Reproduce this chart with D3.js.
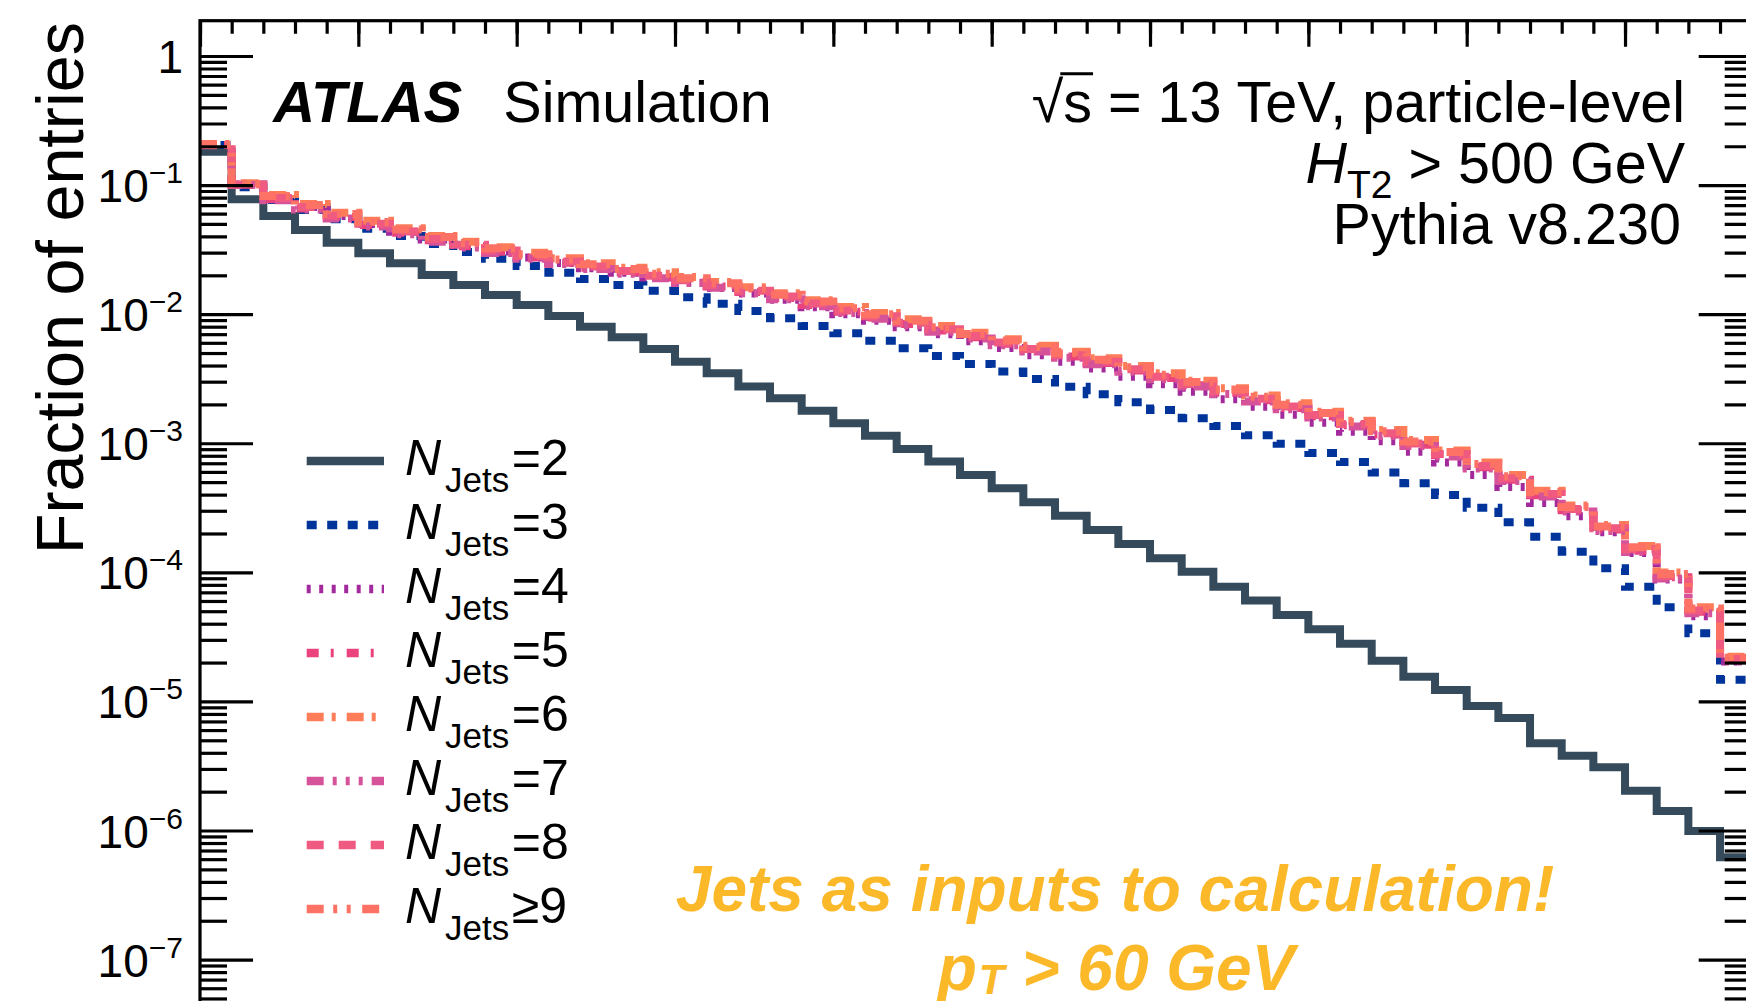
<!DOCTYPE html>
<html>
<head>
<meta charset="utf-8">
<script src="https://cdn.jsdelivr.net/npm/d3@7"></script>
<style>
  html, body { margin: 0; padding: 0; background: #fff; overflow: hidden; }
  svg { display: block; }
  text { font-family: "Liberation Sans", Arial, Helvetica, sans-serif; fill: #000; }
</style>
</head>
<body>
<svg id="chart" width="1746" height="1001"></svg>
<script>
// ---------------------------------------------------------------------------
// Data: 49 equal-width bins; values are log10(fraction of entries) per bin.
// ---------------------------------------------------------------------------
const nBins = 49;
const binEdges = d3.range(0, nBins + 1);

const logFracN2 = [-0.741, -1.110, -1.239, -1.348, -1.446, -1.528, -1.605, -1.696, -1.774, -1.851,
  -1.929, -2.014, -2.097, -2.179, -2.270, -2.368, -2.458, -2.561, -2.651, -2.748,
  -2.845, -2.941, -3.044, -3.142, -3.246, -3.349, -3.457, -3.561, -3.672, -3.780,
  -3.891, -3.995, -4.111, -4.219, -4.330, -4.441, -4.554, -4.684, -4.808, -4.911,
  -5.035, -5.128, -5.324, -5.420, -5.510, -5.691, -5.848, -6.003, -6.207];

const logFracN3 = [-0.689, -1.017, -1.115, -1.193, -1.265, -1.338, -1.394, -1.456, -1.518, -1.570,
  -1.627, -1.679, -1.727, -1.774, -1.818, -1.869, -1.919, -1.975, -2.032, -2.091,
  -2.148, -2.205, -2.264, -2.324, -2.386, -2.445, -2.502, -2.562, -2.620, -2.682,
  -2.742, -2.806, -2.866, -2.938, -3.003, -3.075, -3.145, -3.227, -3.310, -3.400,
  -3.499, -3.612, -3.724, -3.840, -3.968, -4.111, -4.271, -4.472, -4.833];

const logFracN4 = [-0.690, -0.995, -1.095, -1.170, -1.240, -1.302, -1.361, -1.421, -1.465, -1.515,
  -1.560, -1.604, -1.644, -1.679, -1.716, -1.757, -1.797, -1.840, -1.889, -1.946,
  -2.000, -2.050, -2.102, -2.155, -2.210, -2.263, -2.318, -2.369, -2.421, -2.484,
  -2.542, -2.600, -2.660, -2.718, -2.779, -2.842, -2.911, -2.985, -3.065, -3.150,
  -3.245, -3.338, -3.462, -3.565, -3.690, -3.850, -4.055, -4.340, -4.690];

const logFracN5 = [-0.690, -0.998, -1.110, -1.181, -1.248, -1.310, -1.370, -1.428, -1.473, -1.517,
  -1.560, -1.602, -1.640, -1.676, -1.712, -1.748, -1.786, -1.828, -1.874, -1.929,
  -1.981, -2.026, -2.076, -2.127, -2.179, -2.230, -2.280, -2.328, -2.378, -2.437,
  -2.494, -2.551, -2.609, -2.666, -2.726, -2.791, -2.861, -2.933, -3.011, -3.093,
  -3.186, -3.282, -3.403, -3.519, -3.669, -3.832, -4.038, -4.306, -4.680];

const logFracN6 = [-0.682, -0.986, -1.077, -1.147, -1.214, -1.276, -1.335, -1.394, -1.438, -1.482,
  -1.525, -1.567, -1.605, -1.640, -1.676, -1.712, -1.750, -1.792, -1.838, -1.893,
  -1.945, -1.990, -2.040, -2.091, -2.143, -2.194, -2.244, -2.292, -2.342, -2.401,
  -2.458, -2.515, -2.573, -2.630, -2.690, -2.755, -2.825, -2.897, -2.975, -3.057,
  -3.150, -3.246, -3.367, -3.483, -3.633, -3.796, -4.002, -4.270, -4.653];

const logFracN7 = [-0.692, -1.000, -1.118, -1.190, -1.258, -1.320, -1.380, -1.438, -1.483, -1.527,
  -1.570, -1.612, -1.650, -1.686, -1.722, -1.758, -1.796, -1.838, -1.884, -1.939,
  -1.991, -2.036, -2.086, -2.137, -2.189, -2.240, -2.290, -2.338, -2.388, -2.447,
  -2.504, -2.561, -2.619, -2.676, -2.736, -2.801, -2.871, -2.943, -3.021, -3.103,
  -3.196, -3.292, -3.413, -3.529, -3.679, -3.842, -4.048, -4.316, -4.690];

const logFracN8 = [-0.688, -0.995, -1.100, -1.170, -1.238, -1.300, -1.360, -1.418, -1.462, -1.506,
  -1.550, -1.592, -1.630, -1.665, -1.702, -1.738, -1.776, -1.818, -1.864, -1.918,
  -1.971, -2.016, -2.066, -2.117, -2.169, -2.220, -2.270, -2.318, -2.368, -2.427,
  -2.484, -2.541, -2.599, -2.656, -2.716, -2.781, -2.851, -2.923, -3.001, -3.083,
  -3.176, -3.272, -3.393, -3.509, -3.659, -3.822, -4.028, -4.296, -4.672];

const logFracN9 = [-0.685, -0.990, -1.085, -1.155, -1.224, -1.285, -1.345, -1.402, -1.448, -1.490,
  -1.535, -1.576, -1.614, -1.650, -1.686, -1.722, -1.760, -1.801, -1.849, -1.902,
  -1.955, -2.001, -2.050, -2.101, -2.154, -2.204, -2.255, -2.302, -2.353, -2.411,
  -2.469, -2.525, -2.584, -2.640, -2.701, -2.765, -2.836, -2.907, -2.986, -3.067,
  -3.161, -3.256, -3.378, -3.493, -3.644, -3.806, -4.013, -4.280, -4.662];

const seriesLabels = ["=2", "=3", "=4", "=5", "=6", "=7", "=8", "\u22659"];
const yTickExponents = [0, -1, -2, -3, -4, -5, -6, -7];
const yDomain = [2.18e-8, 1.877];

// ---------------------------------------------------------------------------
// Styles
// ---------------------------------------------------------------------------
const styles = [
  { values: logFracN2, color: "#354b5b", dash: null },
  { values: logFracN3, color: "#00349b", dash: "10,10.5" },
  { values: logFracN4, color: "#a32a9c", dash: "4,8.5" },
  { values: logFracN5, color: "#e9427c", dash: "12,12,3,13" },
  { values: logFracN6, color: "#fd7d58", dash: "17,8,4,11" },
  { values: logFracN7, color: "#d6539a", dash: "17,9,4,9,4,9,4,9" },
  { values: logFracN8, color: "#f05a80", dash: "17,15" },
  { values: logFracN9, color: "#fd7264", dash: "17,9.5,4,9.5,4,11.5" }
];

const frame = { left: 200, top: 20.7, right: 1751.7, bottom: 1045 };
const axisStroke = 3.2;
const lineWidth = 8;

const svg = d3.select("#chart");

const x = d3.scaleLinear().domain([binEdges[0], binEdges[nBins]]).range([frame.left, frame.right]);
const y = d3.scaleLog().domain(yDomain).range([frame.bottom, frame.top]);

svg.append("defs").append("clipPath").attr("id", "plotClip")
  .append("rect")
  .attr("x", frame.left).attr("y", frame.top)
  .attr("width", frame.right - frame.left)
  .attr("height", frame.bottom - frame.top);

// ---------------------------------------------------------------------------
// Histograms (step outlines)
// ---------------------------------------------------------------------------
const step = d3.line()
  .x(d => x(d[0]))
  .y(d => y(d[1]))
  .curve(d3.curveStepAfter);

const histG = svg.append("g").attr("clip-path", "url(#plotClip)");
styles.forEach(s => {
  const pts = s.values.map((v, i) => [binEdges[i], Math.pow(10, v)]);
  pts.push([binEdges[nBins], Math.pow(10, s.values[nBins - 1])]);
  histG.append("path")
    .attr("d", step(pts))
    .attr("fill", "none")
    .attr("stroke", s.color)
    .attr("stroke-width", lineWidth)
    .attr("stroke-linejoin", "miter")
    .attr("stroke-dasharray", s.dash);
});

// ---------------------------------------------------------------------------
// Axes and frame
// ---------------------------------------------------------------------------
const majorY = yTickExponents.map(e => Math.pow(10, e));
const minorY = [];
for (let e = -8; e <= 0; e++) {
  for (let k = 2; k <= 9; k++) {
    const v = k * Math.pow(10, e);
    if (v >= yDomain[0] && v <= yDomain[1]) minorY.push(v);
  }
}
const minorX = binEdges.slice();
const majorX = binEdges.filter(v => v % 5 === 0);

function styleAxis(g) {
  g.select(".domain").remove();
  g.selectAll(".tick line").attr("stroke", "#000").attr("stroke-width", axisStroke);
  g.selectAll(".tick text").remove();
}

const axG = svg.append("g").attr("clip-path", "url(#plotClip)");
// left axis (ticks point inward)
axG.append("g").attr("transform", `translate(${frame.left},0)`)
  .call(d3.axisRight(y).tickValues(majorY).tickSize(53).tickFormat("")).call(styleAxis);
axG.append("g").attr("transform", `translate(${frame.left},0)`)
  .call(d3.axisRight(y).tickValues(minorY).tickSize(27).tickFormat("")).call(styleAxis);
// right axis
axG.append("g").attr("transform", `translate(${frame.right},0)`)
  .call(d3.axisLeft(y).tickValues(majorY).tickSize(53).tickFormat("")).call(styleAxis);
axG.append("g").attr("transform", `translate(${frame.right},0)`)
  .call(d3.axisLeft(y).tickValues(minorY).tickSize(27).tickFormat("")).call(styleAxis);
// top axis
axG.append("g").attr("transform", `translate(0,${frame.top})`)
  .call(d3.axisBottom(x).tickValues(minorX).tickSize(13).tickFormat("")).call(styleAxis);
axG.append("g").attr("transform", `translate(0,${frame.top})`)
  .call(d3.axisBottom(x).tickValues(majorX).tickSize(26).tickFormat("")).call(styleAxis);

svg.append("rect")
  .attr("x", frame.left).attr("y", frame.top)
  .attr("width", frame.right - frame.left)
  .attr("height", frame.bottom - frame.top)
  .attr("fill", "none").attr("stroke", "#000").attr("stroke-width", axisStroke);

// y tick labels
const labG = svg.append("g");
yTickExponents.forEach(e => {
  const t = labG.append("text")
    .attr("x", 183).attr("y", y(Math.pow(10, e)) + 17)
    .attr("text-anchor", "end")
    .attr("font-size", 46);
  if (e === 0) {
    t.text("1");
  } else {
    t.append("tspan").text("10");
    t.append("tspan").attr("font-size", 30).attr("dy", -19).text("\u2212" + Math.abs(e));
  }
});

// y title
svg.append("text")
  .attr("transform", "translate(83,22) rotate(-90)")
  .attr("text-anchor", "end")
  .attr("font-size", 66.5)
  .text("Fraction of entries");

// ---------------------------------------------------------------------------
// Labels
// ---------------------------------------------------------------------------
svg.append("text")
  .attr("x", 273.3).attr("y", 121.7)
  .attr("font-size", 58).attr("font-weight", "bold").attr("font-style", "italic")
  .text("ATLAS");
svg.append("text")
  .attr("x", 503.3).attr("y", 121.7)
  .attr("font-size", 57.5)
  .text("Simulation");

const rightX = 1685;
const l1 = svg.append("text")
  .attr("x", rightX).attr("y", 121.7)
  .attr("text-anchor", "end").attr("font-size", 57.5);
l1.append("tspan").text("\u221A");
l1.append("tspan").text("s");
l1.append("tspan").text(" = 13 TeV, particle-level");
{
  const node = l1.node();
  const sq = node.getExtentOfChar(0);
  const s = node.getExtentOfChar(1);
  svg.append("line")
    .attr("x1", sq.x + sq.width - 3).attr("x2", s.x + s.width + 1)
    .attr("y1", 121.7 - 48).attr("y2", 121.7 - 48)
    .attr("stroke", "#000").attr("stroke-width", 3);
}

const l2 = svg.append("text")
  .attr("x", rightX).attr("y", 183)
  .attr("text-anchor", "end").attr("font-size", 57.5);
l2.append("tspan").attr("font-style", "italic").text("H");
l2.append("tspan").attr("font-size", 39).attr("dy", 15).text("T2");
l2.append("tspan").attr("dy", -15).text(" > 500 GeV");

svg.append("text")
  .attr("x", rightX - 4).attr("y", 244)
  .attr("text-anchor", "end").attr("font-size", 57.5)
  .text("Pythia v8.230");

// ---------------------------------------------------------------------------
// Legend
// ---------------------------------------------------------------------------
const legG = svg.append("g");
styles.forEach((s, i) => {
  const rowY = 461 + 64 * i;
  legG.append("line")
    .attr("x1", 306.7).attr("x2", 384)
    .attr("y1", rowY).attr("y2", rowY)
    .attr("stroke", s.color).attr("stroke-width", lineWidth + 0.5)
    .attr("stroke-dasharray", s.dash);
  const t = legG.append("text")
    .attr("x", 405).attr("y", rowY + 14)
    .attr("font-size", 50);
  t.append("tspan").attr("font-style", "italic").text("N");
  t.append("tspan").attr("font-size", 35).attr("dx", 4).attr("dy", 16.7).text("Jets");
  t.append("tspan").attr("dx", 2.5).attr("dy", -16.7).text(seriesLabels[i]);
});

// ---------------------------------------------------------------------------
// Annotation
// ---------------------------------------------------------------------------
const noteColor = "#fbb829";
svg.append("text")
  .attr("x", 1115).attr("y", 911)
  .attr("text-anchor", "middle")
  .attr("font-size", 64).attr("font-weight", "bold").attr("font-style", "italic")
  .style("fill", noteColor)
  .text("Jets as inputs to calculation!");
const n2 = svg.append("text")
  .attr("x", 1116).attr("y", 990)
  .attr("text-anchor", "middle")
  .attr("font-size", 64).attr("font-weight", "bold").attr("font-style", "italic")
  .style("fill", noteColor);
n2.append("tspan").text("p");
n2.append("tspan").attr("font-size", 42).attr("dx", 2).attr("dy", 4).text("T");
n2.append("tspan").attr("dy", -4).text(" > 60 GeV");
</script>
</body>
</html>
